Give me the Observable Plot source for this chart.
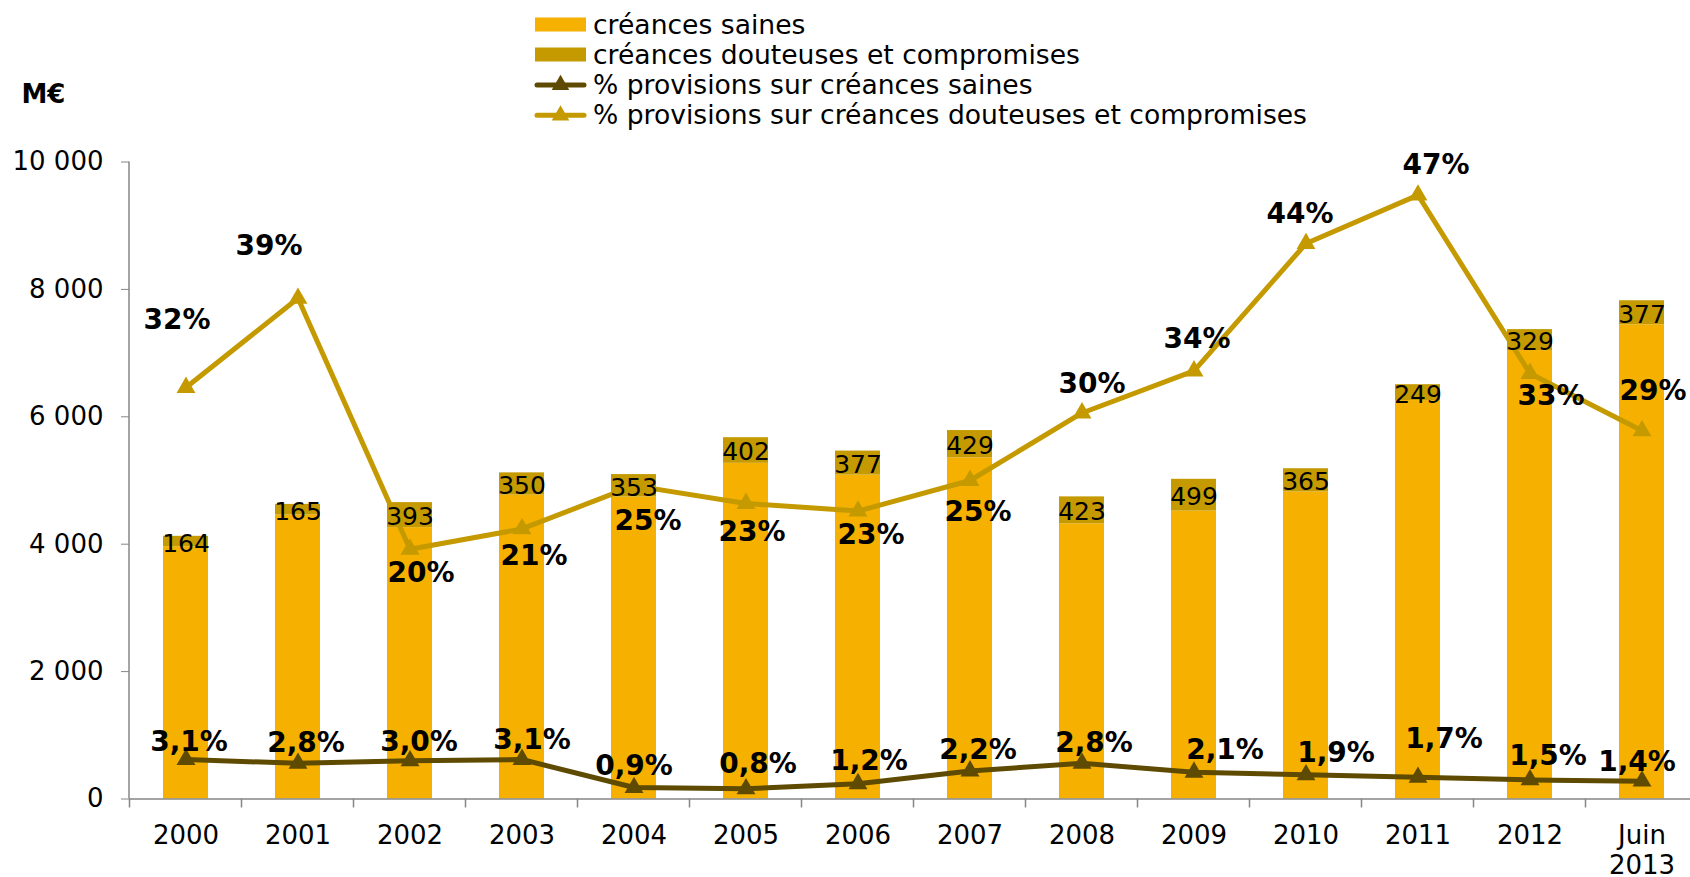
<!DOCTYPE html>
<html>
<head>
<meta charset="utf-8">
<script src="https://cdn.jsdelivr.net/npm/d3@7"></script>
<script src="https://cdn.jsdelivr.net/npm/@observablehq/plot@0.6"></script>
<style>
html, body { margin: 0; padding: 0; background: #fff; overflow: hidden; }
#legend { display: block; }
#chart svg { display: block; }
</style>
</head>
<body>
<svg id="legend" width="1690" height="140"></svg>
<div id="chart"></div>
<script>
// ---- Data ----
const categories = ["2000", "2001", "2002", "2003", "2004", "2005", "2006", "2007", "2008", "2009", "2010", "2011", "2012", "Juin\n2013"];
const creancesSaines = [3960, 4460, 4260, 4770, 4740, 5270, 5085, 5355, 4320, 4520, 4820, 6255, 7040, 7445];
const creancesDouteuses = [164, 165, 393, 350, 353, 402, 377, 429, 423, 499, 365, 249, 329, 377];
const provisionsSaines = [3.1, 2.8, 3.0, 3.1, 0.9, 0.8, 1.2, 2.2, 2.8, 2.1, 1.9, 1.7, 1.5, 1.4];
const provisionsDouteuses = [32.3, 39.3, 19.6, 21.2, 24.6, 23.2, 22.6, 25.0, 30.3, 33.6, 43.6, 47.4, 33.4, 28.9];
const yTicks = [0, 2000, 4000, 6000, 8000, 10000];
const seriesNames = [
  "créances saines",
  "créances douteuses et compromises",
  "% provisions sur créances saines",
  "% provisions sur créances douteuses et compromises"
];
const unitLabel = "M€";

// ---- Layout / style (not data) ----
const secondaryMax = 50; // secondary (%) axis 0–50 mapped onto 0–10 000
const colSaines = "#F5B000";
const colDouteuses = "#C49A00";
const colLineS = "#5E4A00";
const colLineD = "#C49A00";
const axisGrey = "#868686";
// label nudges in pixels (dx, dy) relative to each point, as placed in the original
const nudgeD = [[-9,-67],[-29,-52],[11,24],[12,27],[14,35],[6,29],[13,24],[8,32],[10,-29],[3,-32],[-6,-30],[18,-30],[21,23],[11,-40]];
const nudgeS = [[3,-17],[8,-20],[9,-19],[10,-19],[0,-22],[12,-25],[11,-23],[8,-21],[12,-20],[31,-22],[30,-22],[26,-38],[18,-24],[-5,-19]];

const table = categories.map((c, i) => ({
  cat: c,
  saines: creancesSaines[i],
  douteuses: creancesDouteuses[i],
  pS: provisionsSaines[i],
  pD: provisionsDouteuses[i]
}));
const stacked = table.flatMap(d => [
  {cat: d.cat, serie: seriesNames[0], v: d.saines},
  {cat: d.cat, serie: seriesNames[1], v: d.douteuses}
]);
const toPrimary = v => v * 10000 / secondaryMax;
const fmtThousands = d => d3.format(",")(d).replace(/,/g, " ");
const fmtPct1 = v => v.toFixed(1).replace(".", ",") + "%";
const fmtPct0 = v => Math.round(v) + "%";

// axis lines and category boundary ticks drawn from the scales
function axisFrame(index, scales, values, dims) {
  const g = d3.create("svg:g").attr("stroke", axisGrey).attr("stroke-width", 1.5);
  const x = scales.x, y = scales.y;
  const step = x.step(), bw = x.bandwidth();
  const y0 = y(0);
  for (const c of x.domain()) {
    const bx = x(c) + bw / 2 - step / 2;
    g.append("line").attr("x1", bx).attr("x2", bx).attr("y1", y0).attr("y2", y0 + 9);
  }
  g.append("line").attr("x1", dims.marginLeft).attr("x2", dims.marginLeft)
    .attr("y1", y(yTicks[yTicks.length - 1])).attr("y2", y0);
  return g.node();
}

const labelMarks = [];
table.forEach((d, i) => {
  labelMarks.push(Plot.text([d], {
    x: "cat", y: r => toPrimary(r.pD), text: r => fmtPct0(r.pD),
    dx: nudgeD[i][0], dy: nudgeD[i][1], fontWeight: "bold", fontSize: 28, fill: "#000"
  }));
  labelMarks.push(Plot.text([d], {
    x: "cat", y: r => toPrimary(r.pS), text: r => fmtPct1(r.pS),
    dx: nudgeS[i][0], dy: nudgeS[i][1], fontWeight: "bold", fontSize: 28, fill: "#000"
  }));
});

const chart = Plot.plot({
  width: 1690,
  height: 737,
  marginLeft: 129,
  marginRight: -8,
  marginTop: 21.5,
  marginBottom: 78.5,
  style: {fontFamily: "DejaVu Sans", fontSize: "26px", color: "#000", background: "#fff", overflow: "visible"},
  x: {type: "band", domain: categories, paddingInner: 0.6, paddingOuter: 0.3, axis: null},
  y: {domain: [0, 10000], axis: null},
  color: {domain: seriesNames.slice(0, 2), range: [colSaines, colDouteuses]},
  marks: [
    Plot.barY(stacked, {x: "cat", y: "v", fill: "serie"}),
    Plot.ruleY([0], {stroke: axisGrey, strokeWidth: 1.5}),
    axisFrame,
    Plot.axisY({ticks: yTicks, tickFormat: fmtThousands, tickSize: 8, tickPadding: 18, stroke: axisGrey, fill: "#000", fontSize: 26, label: null}),
    Plot.axisX({tickSize: 0, tickPadding: 24, fill: "#000", fontSize: 26, lineHeight: 1.15, label: null}),
    Plot.line(table, {x: "cat", y: d => toPrimary(d.pD), stroke: colLineD, strokeWidth: 5, strokeLinejoin: "round"}),
    Plot.dot(table, {x: "cat", y: d => toPrimary(d.pD), symbol: "triangle", r: 7, fill: colLineD}),
    Plot.line(table, {x: "cat", y: d => toPrimary(d.pS), stroke: colLineS, strokeWidth: 5, strokeLinejoin: "round"}),
    Plot.dot(table, {x: "cat", y: d => toPrimary(d.pS), symbol: "triangle", r: 7, fill: colLineS}),
    Plot.text(table, {x: "cat", y: d => d.saines + d.douteuses / 2, text: d => String(d.douteuses), dy: 2, fontSize: 25, fill: "#000"}),
    ...labelMarks
  ]
});
document.getElementById("chart").appendChild(chart);

// ---- Legend (above the plot) ----
const leg = d3.select("#legend").attr("font-family", "DejaVu Sans");
leg.append("text").attr("x", 21.5).attr("y", 103).attr("font-weight", "bold").attr("font-size", 26).text(unitLabel);
const rowY = [24.5, 54.5, 85, 115.3];
const legendKinds = [
  {type: "rect", color: colSaines},
  {type: "rect", color: colDouteuses},
  {type: "line", color: colLineS},
  {type: "line", color: colLineD}
];
const tri = d3.symbol(d3.symbolTriangle, 134)();
seriesNames.forEach((name, i) => {
  const cy = rowY[i], k = legendKinds[i];
  if (k.type === "rect") {
    leg.append("rect").attr("x", 535).attr("y", cy - 7).attr("width", 51).attr("height", 14).attr("fill", k.color);
  } else {
    leg.append("line").attr("x1", 537).attr("x2", 584).attr("y1", cy).attr("y2", cy)
      .attr("stroke", k.color).attr("stroke-width", 5).attr("stroke-linecap", "round");
    leg.append("path").attr("d", tri).attr("transform", `translate(560.5,${cy})`).attr("fill", k.color);
  }
  leg.append("text").attr("x", 593).attr("y", cy + 9).attr("font-size", 26.6).attr("fill", "#000").text(name);
});
</script>
</body>
</html>
